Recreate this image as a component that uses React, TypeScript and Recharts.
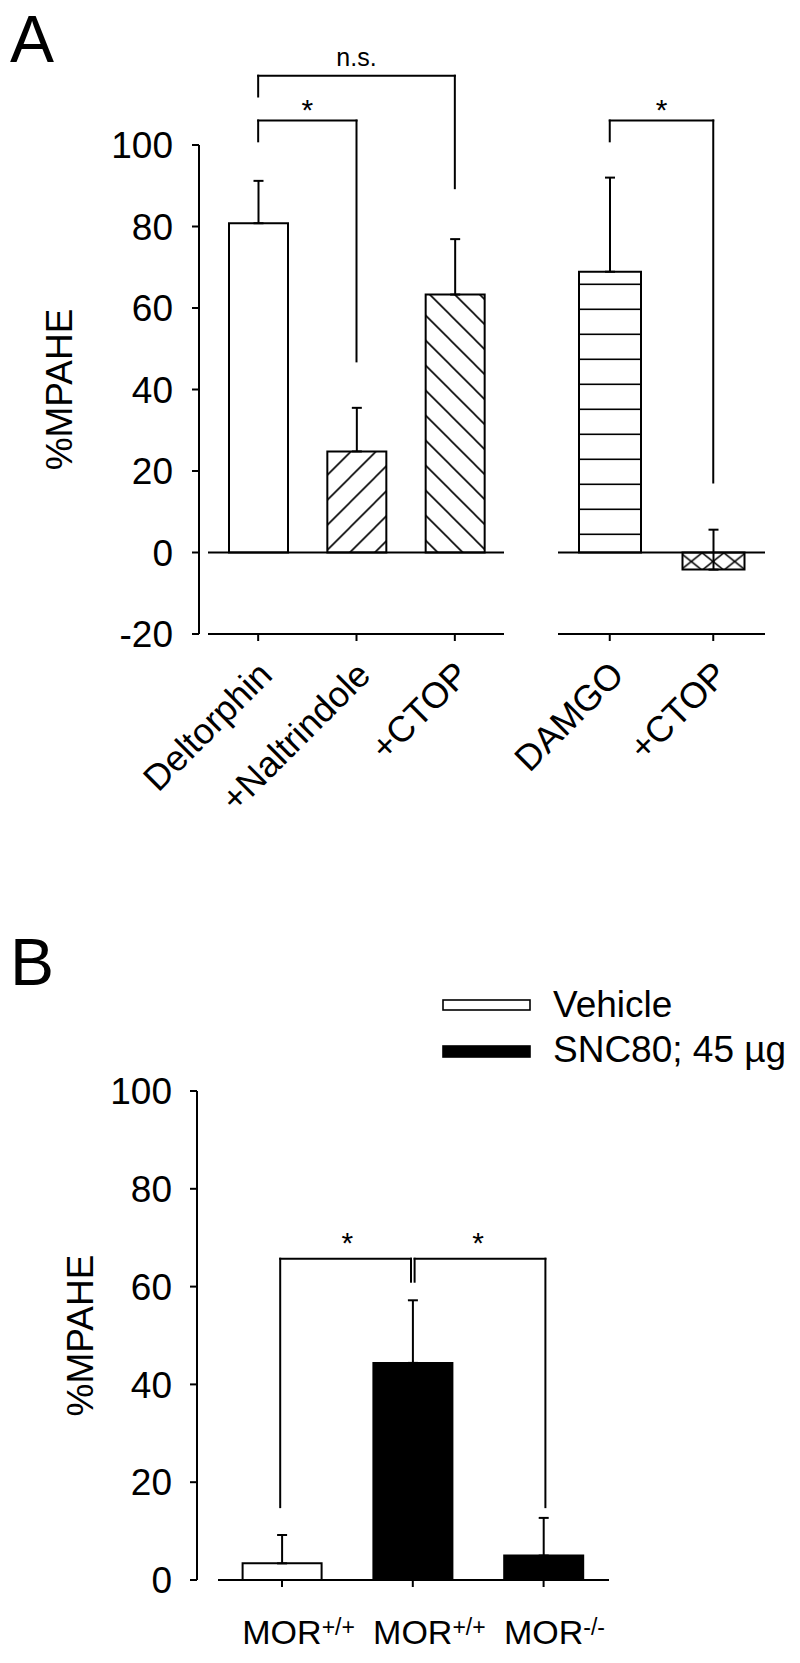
import React from 'react';
import { BarChart, Bar, XAxis, YAxis, ErrorBar, ReferenceLine, Cell, Legend } from 'recharts';

const FONT = '"Liberation Sans", Arial, Helvetica, sans-serif';

// ---------- Panel A data ----------
const groupA1 = ['Deltorphin', '+Naltrindole', '+CTOP'];
const meanA1 = [80.8, 24.8, 63.3];
const semA1 = [10.4, 10.7, 13.6];

const groupA2 = ['DAMGO', '+CTOP'];
const meanA2 = [68.9, -4.2];
const semA2 = [23.1, 9.8];

const yTicksA = [-20, 0, 20, 40, 60, 80, 100];

// significance annotations (value units)
const bracketsA1 = [
  { from: 'Deltorphin', to: '+CTOP', y: 117, fromEnd: 111.9, toEnd: 89.4, label: 'n.s.' },
  { from: 'Deltorphin', to: '+Naltrindole', y: 106, fromEnd: 100.9, toEnd: 46.9, label: '*' },
];
const bracketsA2 = [
  { from: 'DAMGO', to: '+CTOP', y: 106, fromEnd: 100.9, toEnd: 17.2, label: '*' },
];

// ---------- Panel B data ----------
const categoriesB = ['Vehicle MOR+/+', 'SNC80 MOR+/+', 'SNC80 MOR-/-'];
const genotypeB = ['MOR', 'MOR', 'MOR'];
const genotypeSupB = ['+/+', '+/+', '-/-'];
const seriesB = ['Vehicle', 'SNC80; 45 µg'];
const vehicleB = [3.4, null, null];
const vehicleErrB = [5.8, null, null];
const sncB = [null, 44.4, 5.0];
const sncErrB = [null, 12.8, 7.7];
const yTicksB = [0, 20, 40, 60, 80, 100];
const bracketsB = [
  { from: categoriesB[0], to: categoriesB[1], y: 65.7, fromEnd: 14.9, toEnd: 61, label: '*' },
  { from: categoriesB[1], to: categoriesB[2], y: 65.7, fromEnd: 61, toEnd: 14.9, label: '*' },
];

// ---------- styles ----------
const fillsA1 = ['#ffffff', 'url(#hatchUp)', 'url(#hatchDown)'];
const fillsA2 = ['url(#hLines)', 'url(#crossHatch)'];
const bracketShiftB = [-1.8, 1.8];

const dataA1 = groupA1.map((g, i) => ({ cat: g, value: meanA1[i], err: [0, semA1[i]] }));
const dataA2 = groupA2.map((g, i) => ({ cat: g, value: meanA2[i], err: [0, semA2[i]] }));
const dataB = categoriesB.map((c, i) => ({
  cat: c,
  vehicle: vehicleB[i] == null ? undefined : vehicleB[i],
  vehicleErr: vehicleErrB[i] == null ? undefined : [0, vehicleErrB[i]],
  snc: sncB[i] == null ? undefined : sncB[i],
  sncErr: sncErrB[i] == null ? undefined : [0, sncErrB[i]],
}));

const black = '#000000';

function RotTick(props: any) {
  const { x, y, payload } = props;
  const ax = x + 16;
  const ay = y + 36;
  return (
    <text x={ax} y={ay} transform={`rotate(-45 ${ax} ${ay})`} textAnchor="end" fontSize={36} fill={black} fontFamily={FONT}>
      {payload.value}
    </text>
  );
}

function MorTick(props: any) {
  const { x, y, payload } = props;
  const i = categoriesB.indexOf(payload.value);
  return (
    <text x={x - 39.7} y={y + 57} textAnchor="start" fontSize={34} fill={black} fontFamily={FONT}>
      {genotypeB[i]}
      <tspan dy={-9} fontSize={23}>{genotypeSupB[i]}</tspan>
    </text>
  );
}

const yLabel = (bx: number) => (props: any) => {
  const vb = props.viewBox || { x: 0, y: 0, width: 0, height: 0 };
  const cx = vb.x + bx;
  const cy = vb.y + vb.height / 2;
  return (
    <text x={cx} y={cy} transform={`rotate(-90 ${cx} ${cy})`} textAnchor="middle" fontSize={37} fill={black} fontFamily={FONT}>
      %MPAHE
    </text>
  );
};

function bracketLines(b: any, key: string, labelOffset: number, labelSize: number, shift = 0) {
  const common: any = {
    stroke: black,
    strokeWidth: 2,
    ifOverflow: 'visible',
    strokeLinecap: 'square',
    transform: shift ? `translate(${shift} 0)` : undefined,
  };
  return [
    <ReferenceLine
      key={key + 'h'}
      {...common}
      segment={[{ x: b.from, y: b.y }, { x: b.to, y: b.y }]}
      label={{ value: b.label, position: 'top', offset: labelOffset, fontSize: labelSize, fill: black, fontFamily: FONT }}
    />,
    <ReferenceLine key={key + 'l'} {...common} segment={[{ x: b.from, y: b.y }, { x: b.from, y: b.fromEnd }]} />,
    <ReferenceLine key={key + 'r'} {...common} segment={[{ x: b.to, y: b.y }, { x: b.to, y: b.toEnd }]} />,
  ];
}

const axisLineStyle = (gap: number) => ({ stroke: black, strokeWidth: 2, strokeDasharray: `0 ${gap} 3000` });
const tickLineStyle = { stroke: black, strokeWidth: 2 };

function LegendContent(props: any) {
  const payload = [...(props.payload || [])].sort(
    (a: any, b: any) => seriesB.indexOf(a.value) - seriesB.indexOf(b.value)
  );
  return (
    <svg width={360} height={95} style={{ overflow: 'visible' }}>
      {payload.map((entry: any, i: number) => {
        const white = String(entry.color).toLowerCase() === '#ffffff';
        const ry = i === 0 ? 20 : 66;
        const rh = i === 0 ? 10 : 11;
        const ty = i === 0 ? 36.7 : 81.7;
        return (
          <g key={i}>
            <rect x={3} y={ry} width={87} height={rh} fill={white ? '#ffffff' : black} stroke={black} strokeWidth={1.6} />
            <text x={113} y={ty} fontSize={37} fill={black} fontFamily={FONT}>
              {entry.value}
            </text>
          </g>
        );
      })}
    </svg>
  );
}

export default function App() {
  return (
    <div style={{ position: 'absolute', left: 0, top: 0, width: 800, height: 1663, background: '#ffffff', fontFamily: FONT }}>
      <svg width={800} height={1663} style={{ position: 'absolute', left: 0, top: 0 }}>
        <defs>
          <pattern id="hatchUp" patternUnits="userSpaceOnUse" width={25} height={25} y={2.4}>
            <rect width={25} height={25} fill="#ffffff" />
            <path d="M-5,5 L5,-5 M0,25 L25,0 M20,30 L30,20" stroke={black} strokeWidth={1.6} />
          </pattern>
          <pattern id="hatchDown" patternUnits="userSpaceOnUse" width={25} height={25} y={14.7}>
            <rect width={25} height={25} fill="#ffffff" />
            <path d="M-5,20 L5,30 M0,0 L25,25 M20,-5 L30,5" stroke={black} strokeWidth={1.6} />
          </pattern>
          <pattern id="hLines" patternUnits="userSpaceOnUse" width={10} height={25}>
            <rect width={10} height={25} fill="#ffffff" />
            <path d="M0,9.3 L10,9.3" stroke={black} strokeWidth={1.6} />
          </pattern>
          <pattern id="crossHatch" patternUnits="userSpaceOnUse" width={21.7} height={17.4} x={282.15} y={552.8}>
            <rect width={21.7} height={17.4} fill="#ffffff" />
            <path d="M0,0 L21.7,17.4 M21.7,0 L0,17.4" stroke={black} strokeWidth={1.6} />
          </pattern>
        </defs>
        <text x={10} y={62} fontSize={66} fill={black} fontFamily={FONT}>A</text>
        <text x={10} y={985} fontSize={66} fill={black} fontFamily={FONT}>B</text>
      </svg>

      {/* Panel A, left group */}
      <div style={{ position: 'absolute', left: 0, top: 0 }}>
        <BarChart width={504} height={870} data={dataA1} margin={{ top: 145, right: 0, bottom: 86, left: 0 }}>
          <XAxis
            dataKey="cat"
            height={150}
            padding={{ left: 10, right: 0 }}
            interval={0}
            tickSize={7}
            tickMargin={0}
            axisLine={axisLineStyle(9)}
            tickLine={tickLineStyle}
            tick={<RotTick />}
          />
          <YAxis
            type="number"
            domain={[-20, 100]}
            ticks={yTicksA}
            interval={0}
            width={199}
            tickSize={7}
            tickMargin={19}
            axisLine={{ stroke: black, strokeWidth: 2 }}
            tickLine={tickLineStyle}
            tick={{ fill: black, fontSize: 37, fontFamily: FONT }}
            label={yLabel(72)}
          />
          <ReferenceLine y={0} stroke={black} strokeWidth={2} strokeDasharray="0 9 3000" />
          <Bar dataKey="value" barSize={59} stroke={black} strokeWidth={2} isAnimationActive={false}>
            {dataA1.map((d, i) => (
              <Cell key={d.cat} fill={fillsA1[i]} />
            ))}
            <ErrorBar dataKey="err" direction="y" width={5} stroke={black} strokeWidth={2} />
          </Bar>
          {bracketLines(bracketsA1[0], 'ns', 10, 25)}
          {bracketLines(bracketsA1[1], 's1', 1, 30)}
        </BarChart>
      </div>

      {/* Panel A, right group */}
      <div style={{ position: 'absolute', left: 420, top: 0 }}>
        <BarChart width={345} height={870} data={dataA2} margin={{ top: 145, right: 0, bottom: 86, left: 138 }}>
          <XAxis
            dataKey="cat"
            height={150}
            interval={0}
            tickSize={7}
            tickMargin={0}
            axisLine={{ stroke: black, strokeWidth: 2 }}
            tickLine={tickLineStyle}
            tick={<RotTick />}
          />
          <YAxis type="number" domain={[-20, 100]} ticks={yTicksA} hide />
          <ReferenceLine y={0} stroke={black} strokeWidth={2} />
          <Bar dataKey="value" barSize={62} stroke={black} strokeWidth={2} isAnimationActive={false}>
            {dataA2.map((d, i) => (
              <Cell key={d.cat} fill={fillsA2[i]} />
            ))}
            <ErrorBar dataKey="err" direction="y" width={5} stroke={black} strokeWidth={2} />
          </Bar>
          {bracketLines(bracketsA2[0], 's2', 1, 30)}
        </BarChart>
      </div>

      {/* Panel B */}
      <div style={{ position: 'absolute', left: 0, top: 880 }}>
        <BarChart width={800} height={783} data={dataB} margin={{ top: 211, right: 191, bottom: 13, left: 0 }}>
          <XAxis
            dataKey="cat"
            height={70}
            padding={{ left: 19.6, right: 0 }}
            interval={0}
            tickSize={7}
            tickMargin={0}
            axisLine={axisLineStyle(21)}
            tickLine={tickLineStyle}
            tick={<MorTick />}
          />
          <YAxis
            type="number"
            domain={[0, 100]}
            ticks={yTicksB}
            interval={0}
            width={197}
            tickSize={7}
            tickMargin={18}
            axisLine={{ stroke: black, strokeWidth: 2 }}
            tickLine={tickLineStyle}
            tick={{ fill: black, fontSize: 37, fontFamily: FONT }}
            label={yLabel(93)}
          />
          <Legend
            layout="vertical"
            align="center"
            verticalAlign="middle"
            wrapperStyle={{ top: 100, left: 440, width: 360 }}
            content={<LegendContent />}
          />
          <Bar dataKey="vehicle" name={seriesB[0]} stackId="s" barSize={79} fill="#ffffff" stroke={black} strokeWidth={2} isAnimationActive={false}>
            <ErrorBar dataKey="vehicleErr" direction="y" width={5} stroke={black} strokeWidth={2} />
          </Bar>
          <Bar dataKey="snc" name={seriesB[1]} stackId="s" barSize={79} fill={black} stroke={black} strokeWidth={2} isAnimationActive={false}>
            <ErrorBar dataKey="sncErr" direction="y" width={5} stroke={black} strokeWidth={2} />
          </Bar>
          {bracketLines(bracketsB[0], 'b1', 6, 30, bracketShiftB[0])}
          {bracketLines(bracketsB[1], 'b2', 6, 30, bracketShiftB[1])}
        </BarChart>
      </div>
    </div>
  );
}
